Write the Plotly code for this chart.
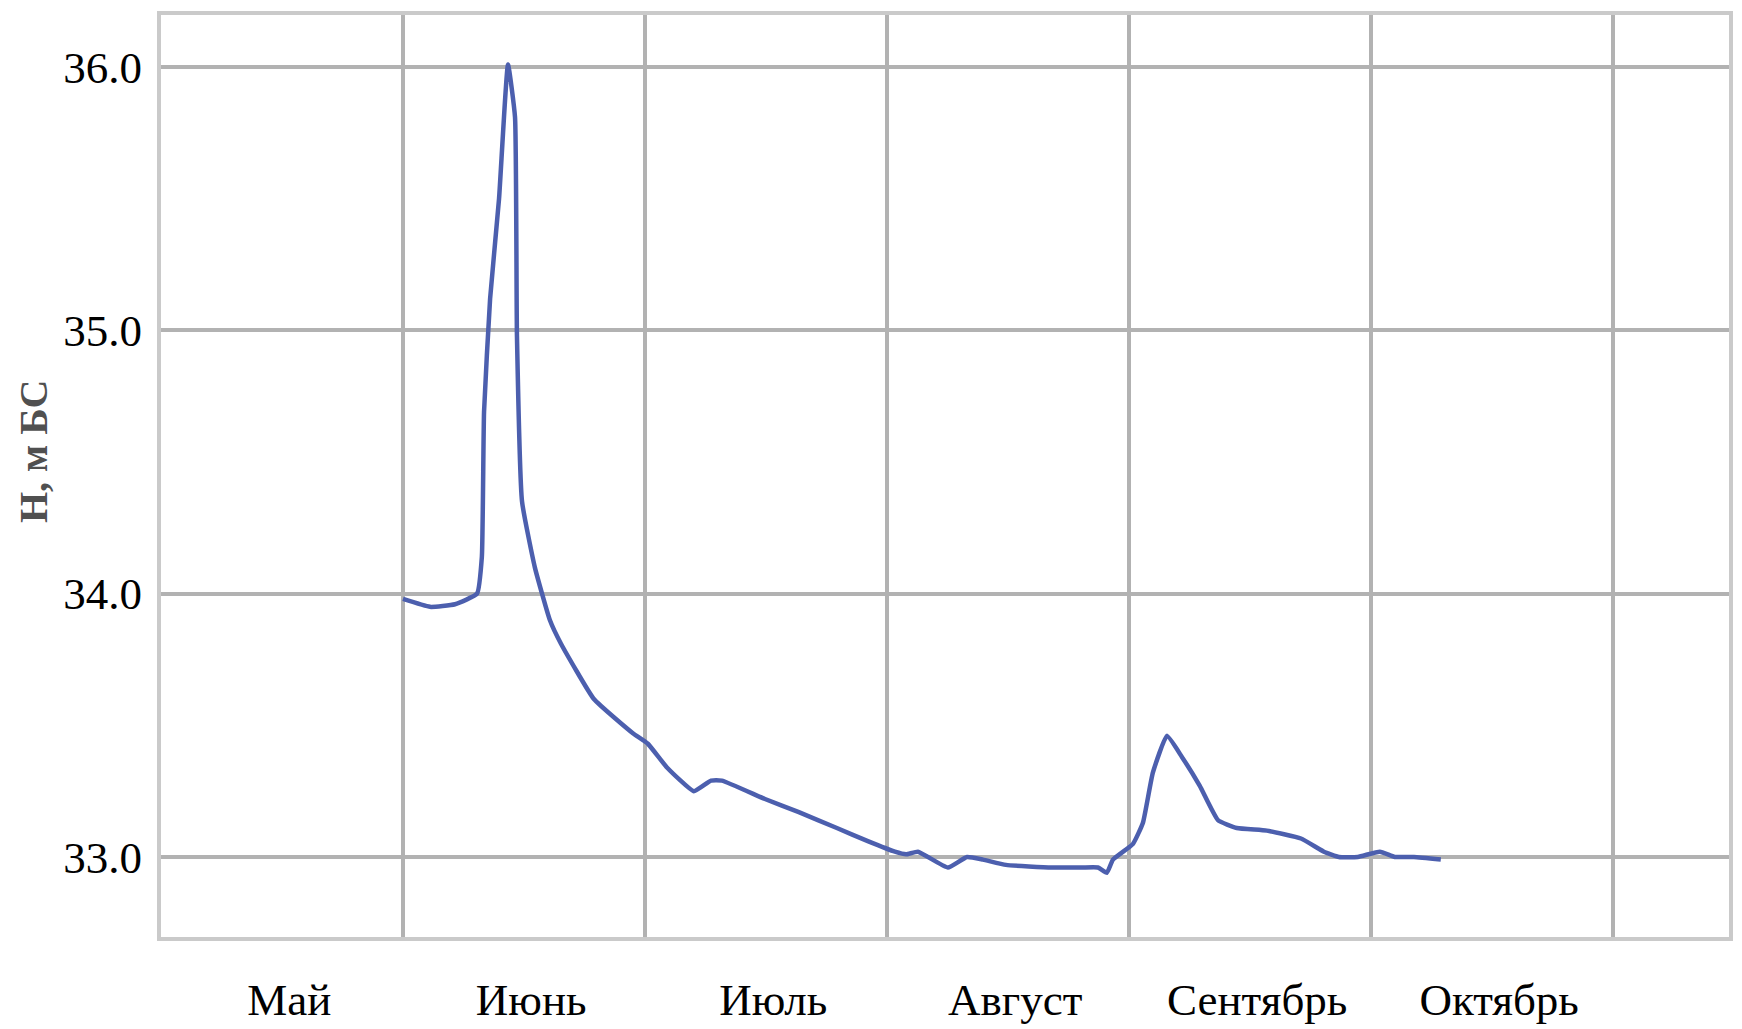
import plotly.graph_objects as go

# Time axis in months counted from 1 May (0 = start of May, 1 = start of June, ...)
month_pos = [1.000, 1.112, 1.215, 1.306, 1.326, 1.335, 1.360, 1.397, 1.434, 1.463,
             1.471, 1.492, 1.545, 1.607, 1.653, 1.789, 1.950, 2.012, 2.091, 2.202,
             2.273, 2.318, 2.496, 2.636, 2.793, 2.921, 3.033, 3.079, 3.128, 3.252,
             3.331, 3.397, 3.492, 3.682, 3.806, 3.872, 3.909, 3.934, 4.017, 4.058,
             4.099, 4.157, 4.219, 4.293, 4.368, 4.446, 4.570, 4.711, 4.806, 4.868,
             4.946, 5.037, 5.099, 5.178, 5.289]

# Water level H, m BS
level = [33.98, 33.95, 33.96, 34.00, 34.14, 34.69, 35.12, 35.50, 36.01, 35.81,
         34.98, 34.35, 34.10, 33.90, 33.81, 33.60, 33.47, 33.43, 33.34, 33.25,
         33.29, 33.29, 33.22, 33.17, 33.11, 33.06, 33.02, 33.01, 33.02, 32.96,
         33.00, 32.99, 32.97, 32.96, 32.96, 32.96, 32.94, 32.99, 33.05, 33.13,
         33.32, 33.46, 33.38, 33.27, 33.14, 33.11, 33.10, 33.07, 33.02, 33.00,
         33.00, 33.02, 33.00, 33.00, 32.99]

month_names = ["Май", "Июнь", "Июль", "Август", "Сентябрь", "Октябрь"]
month_label_pos = [0.53, 1.53, 2.53, 3.53, 4.53, 5.53]
month_bounds = [1, 2, 3, 4, 5, 6]

y_ticks = [33.0, 34.0, 35.0, 36.0]
y_tick_text = ["33.0", "34.0", "35.0", "36.0"]

grid_color = "#b2b2b2"
frame_color = "#cacaca"
serif = "Liberation Serif, Times New Roman, serif"

fig = go.Figure()
fig.add_trace(go.Scatter(
    x=month_pos, y=level, mode="lines",
    line=dict(color="#4c5fae", width=4.5, shape="spline", smoothing=0.4),
    showlegend=False, hoverinfo="x+y",
))

fig.update_layout(
    width=1742, height=1029,
    margin=dict(l=161, r=13, t=15, b=92),
    paper_bgcolor="white", plot_bgcolor="white",
    font=dict(family=serif, size=46, color="black"),
    xaxis=dict(
        range=[0, 6.48], automargin=False,
        tickmode="array", tickvals=month_label_pos, ticktext=month_names,
        showgrid=False, zeroline=False, ticks="",
        ticklabelstandoff=20,
        tickfont=dict(family=serif, size=45, color="black"),
        showline=True, linecolor=frame_color, linewidth=4, mirror=True,
        minor=dict(tickmode="array", tickvals=month_bounds, showgrid=True,
                   gridcolor=grid_color, gridwidth=3.5, ticks=""),
    ),
    yaxis=dict(
        range=[32.696, 36.198], automargin=False,
        tickmode="array", tickvals=y_ticks, ticktext=y_tick_text,
        showgrid=True, gridcolor=grid_color, gridwidth=3.5,
        zeroline=False, ticks="",
        ticklabelstandoff=6,
        tickfont=dict(family=serif, size=45, color="black"),
        showline=True, linecolor=frame_color, linewidth=4, mirror=True,
    ),
    annotations=[dict(
        text="<b>Н, м БС</b>", textangle=-90,
        xref="paper", yref="paper", x=-0.0816, y=0.526,
        xanchor="center", yanchor="middle", showarrow=False,
        font=dict(family=serif, size=40, color="#505050"),
    )],
)

fig.write_html("out.html")
